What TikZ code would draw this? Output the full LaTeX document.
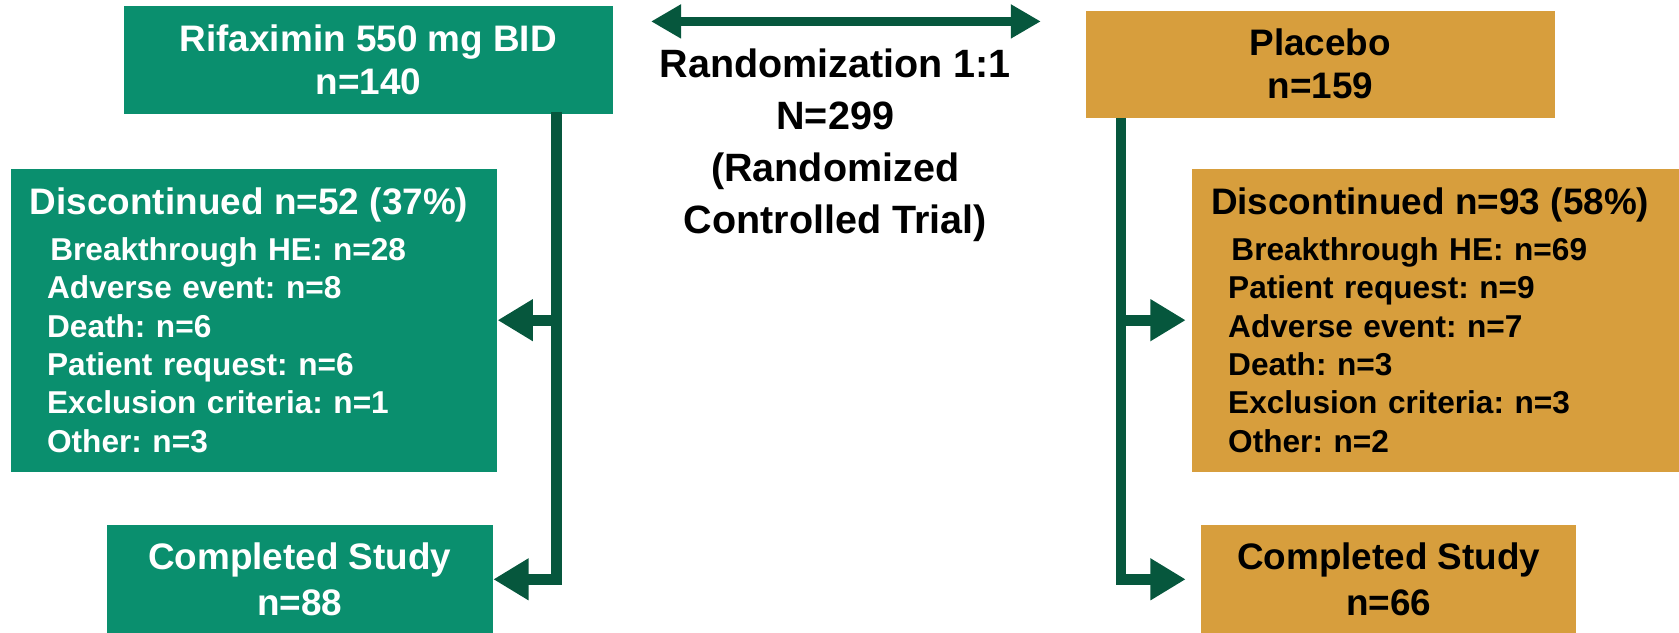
\documentclass[tikz,border=0pt]{standalone}
\usepackage{fontspec}
\setmainfont{Liberation Sans}
\usetikzlibrary{arrows.meta}
\definecolor{armgreen}{HTML}{0A8F6E}
\definecolor{armgold}{HTML}{D79E3D}
\definecolor{linkgreen}{HTML}{06573D}
\newcommand{\why}[1]{\\\hspace*{1.6mm}#1}
\frenchspacing

\begin{document}
\begin{tikzpicture}[
  armbox/.style={rectangle, inner sep=0pt, align=center,
    font=\bfseries\fontsize{9.8}{11.4}\selectfont},
  reasonbox/.style={rectangle, inner xsep=0.18cm, inner ysep=0pt, align=left,
    minimum height=2.83cm, font=\bfseries\fontsize{8.4}{10.2}\selectfont},
  link/.style={draw=linkgreen, line width=0.1cm, -{Triangle[length=3.3mm, width=3.7mm]}},
  split/.style={draw=linkgreen, line width=0.09cm,
    {Triangle[length=2.8mm, width=3.0mm]}-{Triangle[length=2.8mm, width=3.0mm]}}
]
  \useasboundingbox (0,0) rectangle (15.68,-5.91);

  \node[armbox, fill=armgreen, text=white, minimum width=4.56cm, minimum height=1.00cm]
    (rif) at (3.44,-0.56) {Rifaximin 550 mg BID\\n=140};
  \node[armbox, fill=armgold, minimum width=4.38cm, minimum height=1.00cm]
    (plac) at (12.33,-0.60) {Placebo\\n=159};

  \coordinate (randL) at (6.08,-0.20);
  \coordinate (randR) at (9.72,-0.20);
  \draw[split] (randL) -- (randR);
  \node[align=center, font=\bfseries\fontsize{10.5}{13.8}\selectfont]
    (rand) at (7.80,-1.36) {Randomization 1:1\\N=299\\(Randomized\\Controlled Trial)};

  \node[reasonbox, fill=armgreen, text=white, text width=4.18cm]
    (discL) at (2.37,-2.99) {{\fontsize{9.8}{10.9}\selectfont Discontinued n=52 (37\%)}\\[2pt]
    \hspace*{1.9mm}Breakthrough HE: n=28\why{Adverse event: n=8}\why{Death: n=6}%
    \why{Patient request: n=6}\why{Exclusion criteria: n=1}\why{Other: n=3}};
  \node[reasonbox, fill=armgold, text width=4.19cm]
    (discR) at (13.405,-2.99) {{\fontsize{9.8}{10.9}\selectfont Discontinued n=93 (58\%)}\\[2pt]
    \hspace*{1.9mm}Breakthrough HE: n=69\why{Patient request: n=9}\why{Adverse event: n=7}%
    \why{Death: n=3}\why{Exclusion criteria: n=3}\why{Other: n=2}};

  \node[armbox, fill=armgreen, text=white, minimum width=3.60cm, minimum height=1.01cm]
    (compL) at (2.80,-5.41) {Completed Study\\[1pt]n=88};
  \node[armbox, fill=armgold, minimum width=3.50cm, minimum height=1.01cm]
    (compR) at (12.97,-5.41) {Completed Study\\[1pt]n=66};

  \coordinate (trunkL) at (5.20,-1.05);
  \coordinate (trunkR) at (10.47,-1.10);
  \draw[link] (trunkL |- discL.east) -- (discL.east);
  \draw[link] (trunkL) |- (compL.east);
  \draw[link] (trunkR |- discR.west) -- ([xshift=-0.05cm]discR.west);
  \draw[link] (trunkR) |- ([xshift=-0.14cm]compR.west);
\end{tikzpicture}
\end{document}
